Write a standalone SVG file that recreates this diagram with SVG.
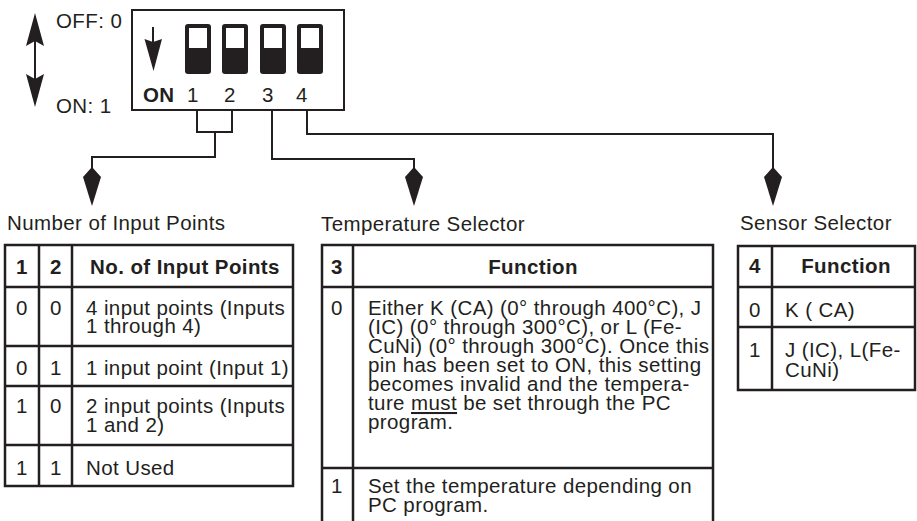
<svg xmlns="http://www.w3.org/2000/svg" width="917" height="521" viewBox="0 0 917 521">
<style>
text{font-family:"Liberation Sans",Arial,Helvetica,sans-serif;font-size:20.5px;fill:#231f20;letter-spacing:0.4px}
.b{font-weight:bold}
.m{text-anchor:middle}
.ln{stroke:#231f20;stroke-width:2;fill:none}
.tb{stroke:#231f20;stroke-width:2.5;fill:none}
.fill{fill:#231f20}
</style>
<defs>
<path id="kite" d="M0,-10 L9,0 L0,29 L-9,0 Z" class="fill"/>
<g id="sw"><rect x="0" y="0" width="26" height="50" rx="3" class="fill"/><rect x="4" y="4" width="18" height="20" fill="#fff"/></g>
</defs>
<rect width="917" height="521" fill="#fff"/>

<g id="legend">
<line x1="35" y1="40" x2="35" y2="80" class="ln"/>
<polygon points="35,13 44,46 35,41 26,46" class="fill"/>
<polygon points="35,107 44,74 35,79 26,74" class="fill"/>
<text x="56" y="28">OFF: 0</text>
<text x="56" y="113">ON: 1</text>
</g>

<g id="dipswitch">
<rect x="132" y="10" width="212" height="100" class="ln"/>
<line x1="153" y1="27" x2="153" y2="42" class="ln"/>
<polygon points="144.5,39 153,42 162,39 153.5,71" class="fill"/>
<use href="#sw" x="185" y="24"/>
<use href="#sw" x="222" y="24"/>
<use href="#sw" x="260" y="24"/>
<use href="#sw" x="297" y="24"/>
<text x="143" y="102" class="b">ON</text>
<text x="193" y="102" class="m">1</text>
<text x="230" y="102" class="m">2</text>
<text x="268" y="102" class="m">3</text>
<text x="302" y="102" class="m">4</text>
</g>

<g id="connectors">
<path d="M197,110 V132 H232 V110" class="ln"/>
<path d="M215,132 V157 H92 V172" class="ln"/>
<path d="M272,110 V159 H414 V172" class="ln"/>
<path d="M307,110 V134 H773 V172" class="ln"/>
<use href="#kite" x="92" y="177"/>
<use href="#kite" x="414" y="177"/>
<use href="#kite" x="773" y="177"/>
</g>

<g id="input-points">
<text x="7" y="230">Number of Input Points</text>
<rect x="5" y="245" width="288" height="241" class="tb"/>
<path d="M39,245 V486 M72,245 V486 M5,287 H293 M5,346 H293 M5,386 H293 M5,445 H293" class="tb"/>
<text x="22" y="274" class="b m">1</text>
<text x="56" y="274" class="b m">2</text>
<text x="185" y="274" class="b m">No. of Input Points</text>
<text x="22" y="315" class="m">0</text>
<text x="56" y="315" class="m">0</text>
<text x="86" y="315">4 input points (Inputs</text>
<text x="86" y="333">1 through 4)</text>
<text x="22" y="375" class="m">0</text>
<text x="56" y="375" class="m">1</text>
<text x="86" y="375">1 input point (Input 1)</text>
<text x="22" y="413" class="m">1</text>
<text x="56" y="413" class="m">0</text>
<text x="86" y="413">2 input points (Inputs</text>
<text x="86" y="432">1 and 2)</text>
<text x="22" y="475" class="m">1</text>
<text x="56" y="475" class="m">1</text>
<text x="86" y="475">Not Used</text>
</g>

<g id="temperature-selector">
<text x="321" y="231">Temperature Selector</text>
<path d="M322,522 V245 H713 V522 M353,245 V522 M322,287 H713 M322,468 H713" class="tb"/>
<text x="337" y="274" class="b m">3</text>
<text x="533" y="274" class="b m">Function</text>
<text x="337" y="315" class="m">0</text>
<text x="368" y="315">Either K (CA) (0° through 400°C), J</text>
<text x="368" y="334">(IC) (0° through 300°C), or L (Fe-</text>
<text x="368" y="353">CuNi) (0° through 300°C). Once this</text>
<text x="368" y="372">pin has been set to ON, this setting</text>
<text x="368" y="391">becomes invalid and the tempera-</text>
<text x="368" y="410">ture <tspan style="text-decoration:underline">must</tspan> be set through the PC</text>
<text x="368" y="429">program.</text>
<text x="337" y="493" class="m">1</text>
<text x="368" y="493">Set the temperature depending on</text>
<text x="368" y="512">PC program.</text>
</g>

<g id="sensor-selector">
<text x="740" y="230">Sensor Selector</text>
<rect x="738" y="246" width="177" height="144" class="tb"/>
<path d="M772,246 V390 M738,287 H915 M738,327 H915" class="tb"/>
<text x="755" y="273" class="b m">4</text>
<text x="846" y="273" class="b m">Function</text>
<text x="755" y="317" class="m">0</text>
<text x="785" y="317">K ( CA)</text>
<text x="755" y="357" class="m">1</text>
<text x="785" y="357">J (IC), L(Fe-</text>
<text x="785" y="377">CuNi)</text>
</g>
</svg>
